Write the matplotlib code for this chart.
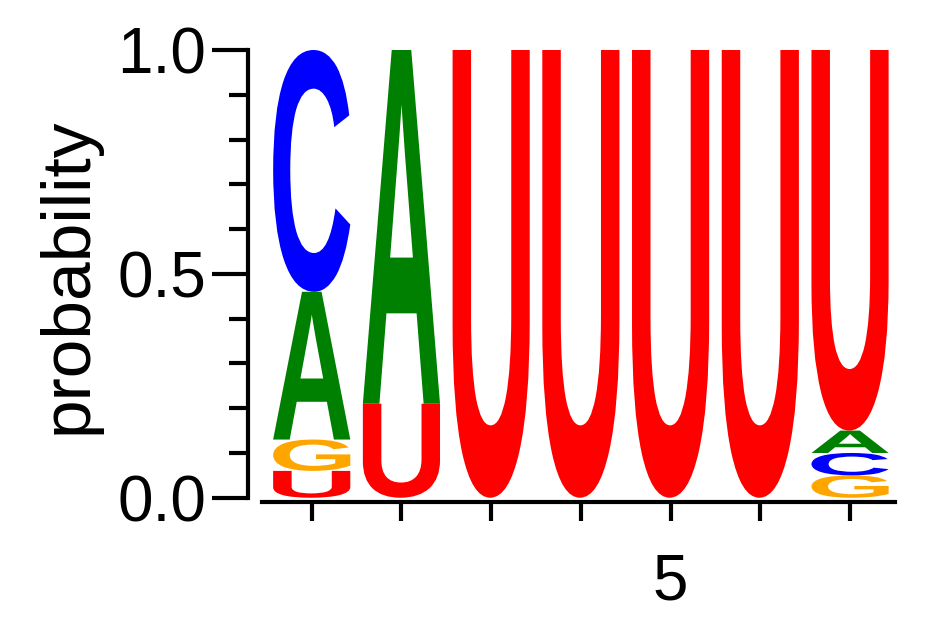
import matplotlib
matplotlib.use("Agg")
import matplotlib.pyplot as plt
from matplotlib.textpath import TextPath
from matplotlib.patches import PathPatch
from matplotlib.font_manager import FontProperties
from matplotlib.transforms import Affine2D

plt.rcParams['font.family'] = ['Liberation Sans', 'DejaVu Sans']

# per-position letter probabilities, stacked bottom-up
positions = [1, 2, 3, 4, 5, 6, 7]
stacks = [
    [("U", 0.06), ("G", 0.07), ("A", 0.33), ("C", 0.54)],
    [("U", 0.21), ("A", 0.79)],
    [("U", 1.0)],
    [("U", 1.0)],
    [("U", 1.0)],
    [("U", 1.0)],
    [("G", 0.05), ("C", 0.05), ("A", 0.05), ("U", 0.85)],
]
colors = {"A": "#008000", "C": "#0000ff", "G": "#ffa500", "U": "#ff0000"}

fp = FontProperties(family="Liberation Sans", weight="bold")


def draw_letter(ax, ch, x, y, w, h):
    tp = TextPath((0, 0), ch, size=1, prop=fp)
    ext = tp.get_extents()
    tr = (Affine2D().translate(-ext.x0, -ext.y0)
          .scale(w / ext.width, h / ext.height)
          .translate(x - w / 2, y))
    ax.add_patch(PathPatch(tr.transform_path(tp), color=colors[ch], lw=0))


fig = plt.figure(figsize=(9.42, 6.17), dpi=100)
ax = fig.add_axes([0.263, 0.186, 0.687, 0.733])

for pos, stack in zip(positions, stacks):
    base = 0.0
    for ch, p in stack:
        draw_letter(ax, ch, pos, base, 0.86, p)
        base += p

ax.set_xlim(0.287, 7.5)
ax.set_ylim(-0.01, 1.0)
for s in ["top", "right"]:
    ax.spines[s].set_visible(False)
ax.spines["left"].set_bounds(0, 1)
ax.spines["bottom"].set_bounds(0.45, 7.5)
ax.spines["left"].set_linewidth(3)
ax.spines["bottom"].set_linewidth(3)

ax.set_yticks([0, 0.5, 1.0])
ax.set_yticklabels(["0.0", "0.5", "1.0"])
ax.set_yticks([i / 10 for i in range(11)], minor=True)
ax.set_xticks(positions)
ax.set_xticklabels(["", "", "", "", "5", "", ""])
ax.tick_params(axis="y", which="major", length=26, width=3, labelsize=46, pad=4)
ax.tick_params(axis="y", which="minor", length=14, width=3)
ax.tick_params(axis="x", length=14, width=3, labelsize=46, pad=22)
ax.set_ylabel("probability", fontsize=50, labelpad=12)

fig.savefig("out.png", dpi=100)
